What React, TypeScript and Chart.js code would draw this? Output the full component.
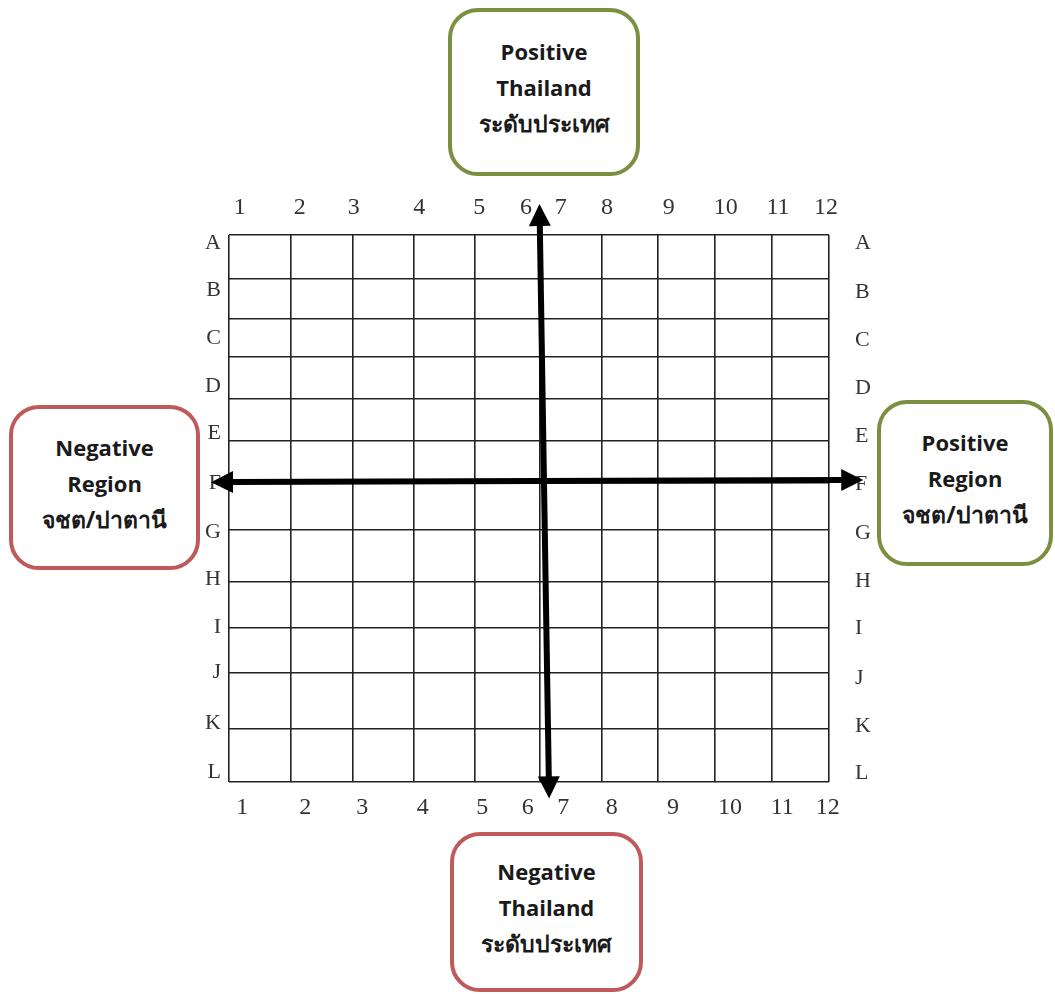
import React, { useEffect, useRef } from "react";
import { Chart, registerables } from "chart.js";

Chart.register(...registerables);

// Grid line positions (column / row units)
const colLines = [0, 1.033, 2.067, 3.083, 4.1, 5.18, 6.22, 7.15, 8.1, 9.05, 10];
const rowLines = [0, 0.965, 1.843, 2.677, 3.598, 4.52, 5.44, 6.47, 7.61, 8.62, 9.61, 10.84, 12];

// Column labels
const colLabels = ["1", "2", "3", "4", "5", "6", "7", "8", "9", "10", "11", "12"];
const topLabelAt = [0.18, 1.18, 2.08, 3.17, 4.17, 4.95, 5.53, 6.3, 7.33, 8.28, 9.15, 9.95];
const bottomLabelAt = [0.22, 1.27, 2.22, 3.23, 4.22, 4.98, 5.57, 6.38, 7.4, 8.35, 9.22, 9.98];

// Row labels
const rowLabels = ["A", "B", "C", "D", "E", "F", "G", "H", "I", "J", "K", "L"];
const leftLabelAt = [0.18, 1.21, 2.26, 3.31, 4.34, 5.44, 6.52, 7.55, 8.6, 9.59, 10.71, 11.78];
const rightLabelAt = [0.18, 1.25, 2.3, 3.36, 4.41, 5.46, 6.54, 7.59, 8.62, 9.72, 10.77, 11.81];

// Axis arrows (shaft end points, grid units; heads are added beyond them)
const verticalArrow = [
  { x: 5.18, y: -0.22 },
  { x: 5.33, y: 11.9 },
];
const horizontalArrow = [
  { x: 0.05, y: 5.42 },
  { x: 10.22, y: 5.375 },
];

const boxes = [
  { lines: ["Positive", "Thailand", "ระดับประเทศ"], color: "#7a9040", left: 448, top: 8, width: 192, height: 168 },
  { lines: ["Negative", "Region", "จชต/ปาตานี"], color: "#bf5a5c", left: 9, top: 405, width: 191, height: 165 },
  { lines: ["Positive", "Region", "จชต/ปาตานี"], color: "#7a9040", left: 877, top: 400, width: 176, height: 166 },
  { lines: ["Negative", "Thailand", "ระดับประเทศ"], color: "#bf5a5c", left: 450, top: 832, width: 193, height: 160 },
];

const serif = "'Liberation Serif', 'DejaVu Serif', serif";

function fixedTicks(values: number[]) {
  return (scale: any) => {
    scale.ticks = values.map((v) => ({ value: v }));
  };
}

const arrowHeads = {
  id: "arrowHeads",
  afterDatasetsDraw(chart: any) {
    const ctx = chart.ctx;
    const headLen = 21;
    const headWidth = 22;
    chart.data.datasets.forEach((_ds: any, di: number) => {
      const pts = chart.getDatasetMeta(di).data;
      if (pts.length < 2) return;
      const ends = [
        [pts[0], pts[1]],
        [pts[pts.length - 1], pts[pts.length - 2]],
      ];
      ctx.save();
      ctx.fillStyle = "#000";
      for (const [p, q] of ends) {
        const dx = p.x - q.x;
        const dy = p.y - q.y;
        const len = Math.hypot(dx, dy) || 1;
        const ux = dx / len;
        const uy = dy / len;
        const bx = p.x - ux * 1;
        const by = p.y - uy * 1;
        ctx.beginPath();
        ctx.moveTo(p.x + ux * headLen, p.y + uy * headLen);
        ctx.lineTo(bx - uy * headWidth / 2, by + ux * headWidth / 2);
        ctx.lineTo(bx + uy * headWidth / 2, by - ux * headWidth / 2);
        ctx.closePath();
        ctx.fill();
      }
      ctx.restore();
    });
  },
};

export default function App() {
  const canvasRef = useRef<HTMLCanvasElement | null>(null);

  useEffect(() => {
    if (!canvasRef.current) return;
    const gridColor = "#222";
    const arrowDs = (data: any[]) =>
      ({
        data,
        showLine: true,
        borderColor: "#000",
        backgroundColor: "#000",
        borderWidth: 6,
        pointRadius: 0,
        clip: false,
        xAxisID: "x",
        yAxisID: "y",
      } as any);
    const chart = new Chart(canvasRef.current, {
      type: "scatter",
      data: {
        datasets: [arrowDs(verticalArrow), arrowDs(horizontalArrow)],
      },
      plugins: [arrowHeads],
      options: {
        animation: false,
        responsive: true,
        maintainAspectRatio: false,
        layout: { padding: 0 },
        plugins: { legend: { display: false }, tooltip: { enabled: false } },
        events: [],
        scales: {
          x: {
            type: "linear",
            position: "bottom",
            min: 0,
            max: 10,
            afterBuildTicks: fixedTicks(colLines),
            afterFit: (s: any) => { s.height = 0; },
            grid: { color: gridColor, lineWidth: 1.6, drawTicks: false },
            border: { display: false },
            ticks: { display: false },
          },
          y: {
            type: "linear",
            position: "left",
            reverse: true,
            min: 0,
            max: 12,
            afterBuildTicks: fixedTicks(rowLines),
            afterFit: (s: any) => { s.width = 0; },
            grid: { color: gridColor, lineWidth: 1.6, drawTicks: false },
            border: { display: false },
            ticks: { display: false },
          },
          xTop: {
            type: "linear",
            position: "top",
            min: 0,
            max: 10,
            afterBuildTicks: fixedTicks(topLabelAt),
            afterFit: (s: any) => { s.height = 235; },
            grid: { display: false, drawTicks: false },
            border: { display: false },
            ticks: {
              autoSkip: false,
              maxRotation: 0,
              padding: 13,
              color: "#333",
              font: { family: serif, size: 24 },
              callback: (_v: any, i: number) => colLabels[i],
            },
          },
          xBottom: {
            type: "linear",
            position: "bottom",
            min: 0,
            max: 10,
            afterBuildTicks: fixedTicks(bottomLabelAt),
            afterFit: (s: any) => { s.height = 213; },
            grid: { display: false, drawTicks: false },
            border: { display: false },
            ticks: {
              autoSkip: false,
              maxRotation: 0,
              padding: 11,
              color: "#333",
              font: { family: serif, size: 24 },
              callback: (_v: any, i: number) => colLabels[i],
            },
          },
          yLeft: {
            type: "linear",
            position: "left",
            reverse: true,
            min: 0,
            max: 12,
            afterBuildTicks: fixedTicks(leftLabelAt),
            afterFit: (s: any) => { s.width = 229; },
            grid: { display: false, drawTicks: false },
            border: { display: false },
            ticks: {
              autoSkip: false,
              padding: 8,
              color: "#333",
              font: { family: serif, size: 22 },
              callback: (_v: any, i: number) => rowLabels[i],
            },
          },
          yRight: {
            type: "linear",
            position: "right",
            reverse: true,
            min: 0,
            max: 12,
            afterBuildTicks: fixedTicks(rightLabelAt),
            afterFit: (s: any) => { s.width = 226; },
            grid: { display: false, drawTicks: false },
            border: { display: false },
            ticks: {
              autoSkip: false,
              padding: 26,
              color: "#333",
              font: { family: serif, size: 22 },
              callback: (_v: any, i: number) => rowLabels[i],
            },
          },
        },
      } as any,
    });
    return () => chart.destroy();
  }, []);

  return (
    <div style={{ position: "absolute", left: 0, top: 0, width: 1055, height: 995, background: "#fff" }}>
      <canvas ref={canvasRef} />
      {boxes.map((b, i) => (
        <div
          key={i}
          style={{
            position: "absolute",
            left: b.left,
            top: b.top,
            width: b.width,
            height: b.height,
            boxSizing: "border-box",
            border: `4px solid ${b.color}`,
            borderRadius: 30,
            background: "#fff",
            display: "flex",
            flexDirection: "column",
            justifyContent: "center",
            alignItems: "center",
            fontFamily: "'Open Sans', 'Noto Sans', sans-serif",
            fontWeight: 700,
            fontSize: 22,
            lineHeight: "36px",
            color: "#1a1a1a",
            paddingBottom: 10,
          }}
        >
          {b.lines.map((t, j) => (
            <div key={j} style={j === 2 ? { fontSize: 23, fontWeight: 700 } : undefined}>{t}</div>
          ))}
        </div>
      ))}
    </div>
  );
}
